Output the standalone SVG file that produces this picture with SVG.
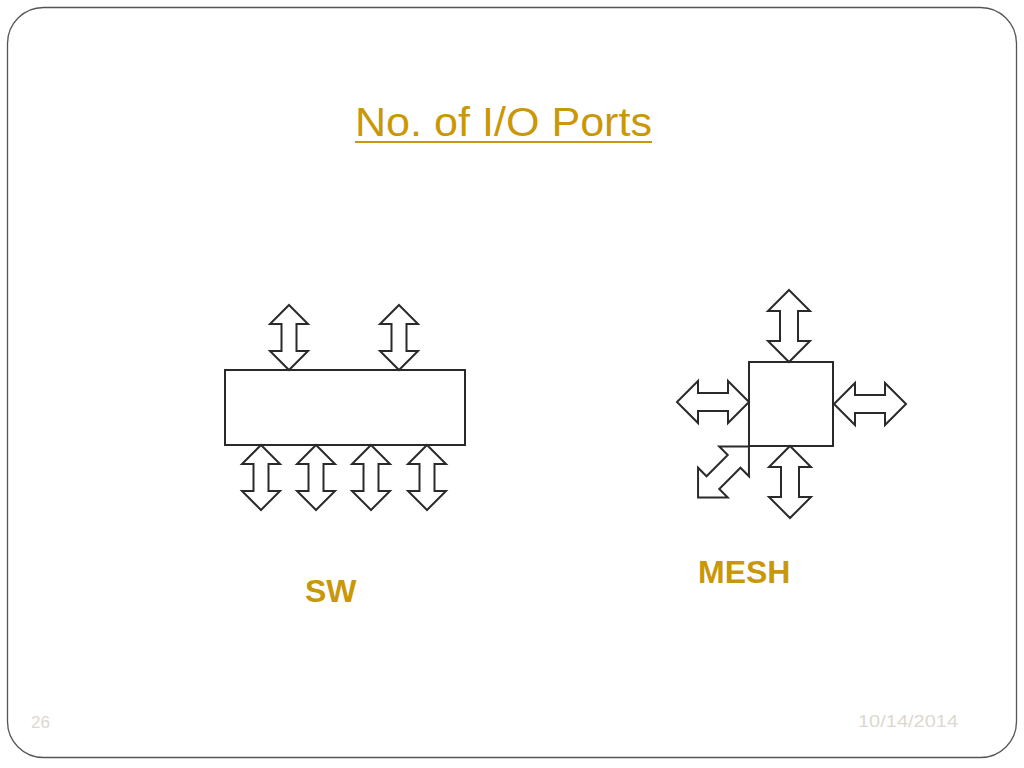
<svg xmlns="http://www.w3.org/2000/svg" width="1024" height="768" viewBox="0 0 1024 768">
<style>
.frame{fill:#fff;stroke:#555;stroke-width:1.3}
.box{fill:#fff;stroke:#2a2a2a;stroke-width:2}
.arr{fill:#fff;stroke:#2a2a2a;stroke-width:2;stroke-linejoin:miter}
.title{font-family:"Liberation Sans",Arial,sans-serif;font-size:40px;fill:#C9980A}
.lbl{font-family:"Liberation Sans",Arial,sans-serif;font-size:32px;font-weight:bold;fill:#C9980A}
.foot{font-family:"Liberation Sans",Arial,sans-serif;font-size:17px;fill:#dcd8cf}
</style>
<defs>
<path id="sa" d="M0,-32.5 L19,-13.5 L7.5,-13.5 L7.5,13.5 L19,13.5 L0,32.5 L-19,13.5 L-7.5,13.5 L-7.5,-13.5 L-19,-13.5 Z"/>
<path id="ma" d="M0,-36 L21,-15 L9,-15 L9,15 L21,15 L0,36 L-21,15 L-9,15 L-9,-15 L-21,-15 Z"/>
</defs>
<rect class="frame" x="7.5" y="7.5" width="1009" height="750" rx="36" ry="36"/>
<g id="title">
<text class="title" x="355" y="136" textLength="297" lengthAdjust="spacingAndGlyphs">No. of I/O Ports</text>
<line x1="355" y1="142" x2="652" y2="142" stroke="#C9980A" stroke-width="2"/>
</g>
<g id="sw">
<rect class="box" x="225" y="370" width="240" height="75"/>
</g>
<g id="mesh">
<rect class="box" x="749" y="362" width="84" height="84"/>
</g>
<g id="connectors">
<use href="#sa" class="arr" transform="translate(289,337.5)"/>
<use href="#sa" class="arr" transform="translate(399,337.5)"/>
<use href="#sa" class="arr" transform="translate(261,477.5)"/>
<use href="#sa" class="arr" transform="translate(316,477.5)"/>
<use href="#sa" class="arr" transform="translate(371,477.5)"/>
<use href="#sa" class="arr" transform="translate(427,477.5)"/>
<use href="#ma" class="arr" transform="translate(789,326)"/>
<use href="#ma" class="arr" transform="translate(790,482)"/>
<use href="#ma" class="arr" transform="translate(713,402) rotate(90)"/>
<use href="#ma" class="arr" transform="translate(870,404) rotate(90)"/>
<use href="#ma" class="arr" transform="translate(723.5,472) rotate(45)"/>
</g>
<g id="labels">
<text class="lbl" x="305" y="602">SW</text>
<text class="lbl" x="698" y="583">MESH</text>
</g>
<g id="footer">
<text class="foot" x="31" y="728">26</text>
<text class="foot" x="858" y="727" textLength="100" lengthAdjust="spacingAndGlyphs">10/14/2014</text>
</g>
</svg>
